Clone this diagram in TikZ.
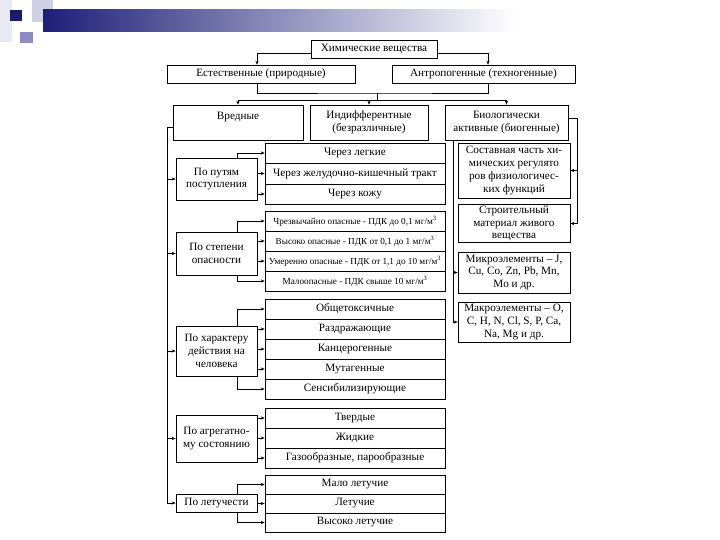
\documentclass[tikz,border=0pt]{standalone}
\usepackage{fontspec}
\setmainfont{Liberation Serif}
\usetikzlibrary{arrows.meta}
\definecolor{hdrdark}{HTML}{1E1E78}
\definecolor{hdrmid}{HTML}{8C8CC4}
\definecolor{hdrlight}{HTML}{CFCFE6}

\begin{document}
\begin{tikzpicture}[x=1pt,y=-1pt,
        >={Stealth[length=4pt,width=3.2pt]},
        every path/.style={line width=0.6pt},
        box/.style={draw, inner sep=1pt, align=center, font=\fontsize{11.2}{12.8}\selectfont},
        cat/.style={box, minimum width=81pt},
        item/.style={box, minimum width=180pt, minimum height=20pt},
        small/.style={font=\fontsize{9.2}{10}\selectfont},
        side/.style={box, minimum width=112pt}]
    \useasboundingbox (0,0) rectangle (720,540);
    % header
    \fill[hdrlight!45] (0,0) rectangle (12,42);
    \fill[hdrlight] (32,0) rectangle (53,22);
    \shade[left color=hdrdark, right color=white, draw=none] (43,10) rectangle (515,32);
    \fill[hdrdark!90!black] (10,10) rectangle (22,21);
    \fill[hdrmid] (20,32) rectangle (33,43);
    % levels
    \node[box, minimum width=126pt, minimum height=18pt] (chem) at (374,49) {Химические вещества};
    \node[box, minimum width=188pt, minimum height=18pt] (nat) at (261,74) {Естественные (природные)};
    \node[box, minimum width=183pt, minimum height=18pt] (anth) at (483.5,74) {Антропогенные (техногенные)};
    \node[box, minimum width=130pt, minimum height=35pt] (vred) at (238,122.5) {Вредные\\ \mbox{}};
    \node[box, minimum width=118pt, minimum height=35pt] (indif) at (369,122.5) {Индифферентные\\(безразличные)};
    \node[box, minimum width=123pt, minimum height=35pt] (bio) at (506.5,122.5) {Биологически\\активные (биогенные)};
    % left categories
    \node[cat, minimum height=42pt] (put) at (216.5,179) {По путям\\поступления};
    \node[cat, minimum height=43pt] (opasn) at (216.5,253.5) {По степени\\опасности};
    \node[cat, minimum height=50pt] (harakt) at (216.5,351) {По характеру\\действия на\\человека};
    \node[cat, minimum height=47pt] (agreg) at (216.5,438.5) {По агрегатно-\\му состоянию};
    \node[cat, minimum height=18pt] (letuch) at (216.5,503) {По летучести};
    % items
    \node[item] (p1) at (355,153) {Через легкие};
    \node[item, minimum height=21pt] (p2) at (355,173.5) {Через желудочно-кишечный тракт};
    \node[item] (p3) at (355,194) {Через кожу};
    \node[item, small] (o1) at (355,221) {Чрезвычайно опасные - ПДК до 0,1 мг/м\textsuperscript{3}};
    \node[item, small] (o2) at (355,241) {Высоко опасные - ПДК от 0,1 до 1 мг/м\textsuperscript{3}};
    \node[item, small] (o3) at (355,261) {Умеренно опасные - ПДК от 1,1 до 10 мг/м\textsuperscript{3}};
    \node[item, small] (o4) at (355,281) {Малоопасные - ПДК свыше 10 мг/м\textsuperscript{3}};
    \node[item] (h1) at (355,309) {Общетоксичные};
    \node[item] (h2) at (355,329) {Раздражающие};
    \node[item] (h3) at (355,349) {Канцерогенные};
    \node[item] (h4) at (355,369) {Мутагенные};
    \node[item] (h5) at (355,389) {Сенсибилизирующие};
    \node[item] (a1) at (355,418) {Твердые};
    \node[item] (a2) at (355,438) {Жидкие};
    \node[item] (a3) at (355,458) {Газообразные, парообразные};
    \node[item, minimum height=19pt] (l1) at (355,484.5) {Мало летучие};
    \node[item, minimum height=19pt] (l2) at (355,503.5) {Летучие};
    \node[item, minimum height=19pt] (l3) at (355,522.5) {Высоко летучие};
    % right column
    \node[side, minimum height=55pt] (r1) at (514,170.5) {Составная часть хи-\\мических регулято\\ров физиологичес-\\ких функций};
    \node[side, minimum height=37pt] (r2) at (514,223.5) {Строительный\\материал живого\\вещества};
    \node[side, minimum height=41pt] (r3) at (514,272.5) {Микроэлементы -- J,\\Cu, Co, Zn, Pb, Mn,\\Mo и др.};
    \node[side, minimum height=40pt] (r4) at (514,322) {Макроэлементы -- O,\\C, H, N, Cl, S, P, Ca,\\Na, Mg и др.};
    % connectors
    \coordinate (bus1) at (377,93);
    \coordinate (bus2) at (377,100);
    \coordinate (trunk) at (167,0);
    \coordinate (xs) at (237,0);
    \coordinate (bx) at (453,0);
    \coordinate (rx) at (577,0);
    \draw[->] ([yshift=-4pt]chem.west) -| ([xshift=-4pt]nat.north);
    \draw[->] ([yshift=-4pt]chem.east) -| ([xshift=4.5pt]anth.north);
    \draw ([xshift=-4pt]nat.south) |- (bus1) -| ([xshift=4.5pt]anth.south);
    \draw (bus1) -- (bus2);
    \draw[->] (bus2) -| (vred.north);
    \draw[->] (bus2) -| (bio.north);
    \draw[->] (indif.north |- bus2) -- (indif.north);
    \draw[->] ([yshift=-4.5pt]vred.west) -| (trunk |- letuch.west) -- (letuch.west);
    \foreach \n in {put,opasn,harakt,agreg}
        \draw[->] (trunk |- \n.west) -- (\n.west);
    \draw[->] (xs |- put.north) |- (p1.west);
    \draw[->] (put.east |- p2.west) -- (p2.west);
    \draw[->] (put.east |- p3.west) -- (p3.west);
    \draw[->] (xs |- opasn.north) |- (o1.west);
    \draw[->] (opasn.east |- o2.west) -- (o2.west);
    \draw[->] (opasn.east |- o3.west) -- (o3.west);
    \draw[->] (xs |- opasn.south) |- (o4.west);
    \draw[->] (xs |- harakt.north) |- (h1.west);
    \foreach \n in {h2,h3,h4}
        \draw[->] (harakt.east |- \n.west) -- (\n.west);
    \draw[->] (xs |- harakt.south) |- (h5.west);
    \foreach \n in {a1,a2,a3}
        \draw[->] (agreg.east |- \n.west) -- (\n.west);
    \draw[->] (xs |- letuch.north) |- (l1.west);
    \draw[->] (letuch.east |- l2.west) -- (l2.west);
    \draw[->] (xs |- letuch.south) |- (l3.west);
    \draw[->] (bx |- bio.south) |- (r4.west);
    \draw[->] (bx |- r3.west) -- (r3.west);
    \draw[->] ([yshift=4.5pt]bio.east) -| (rx |- r2.east) -- (r2.east);
    \draw[->] (rx |- r1.east) -- (r1.east);
\end{tikzpicture}
\end{document}
